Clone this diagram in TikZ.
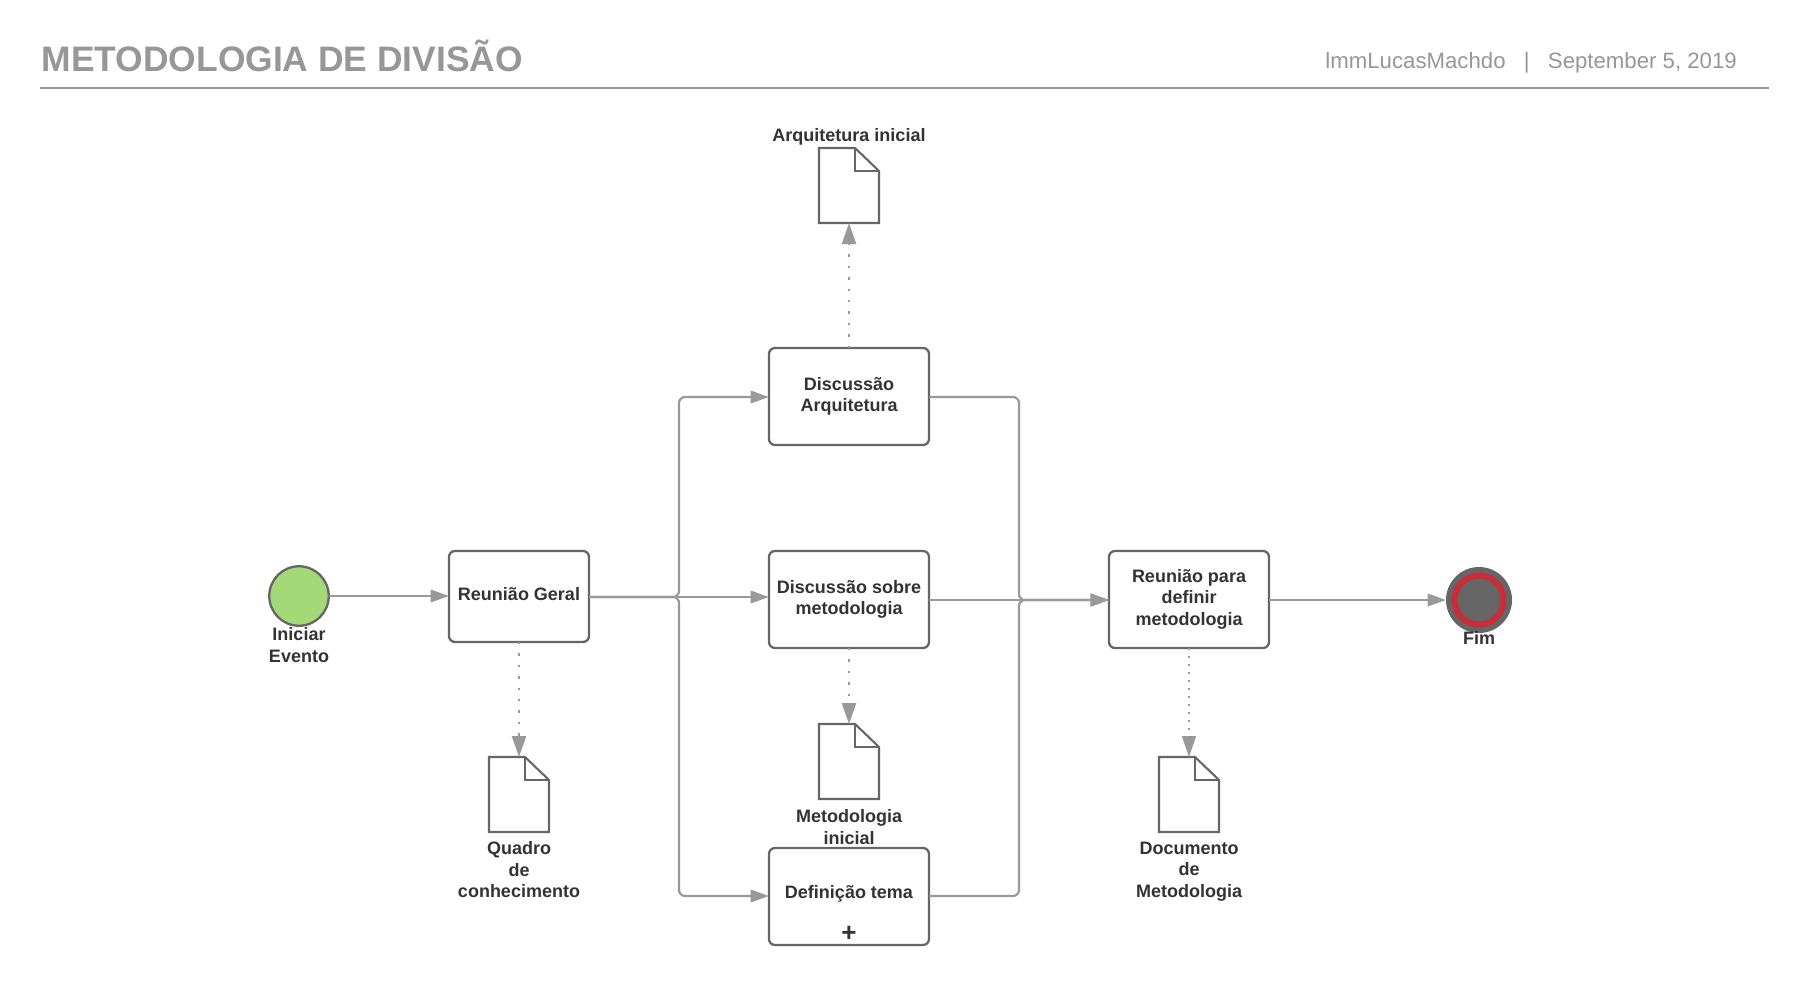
\documentclass[tikz,border=0pt]{standalone}
\usepackage{fontspec}
\setmainfont{Liberation Sans}
\usetikzlibrary{arrows.meta,calc}
\definecolor{ln}{HTML}{999999}
\definecolor{bx}{HTML}{666666}
\definecolor{tx}{HTML}{333333}
\definecolor{hd}{HTML}{979797}
\definecolor{grn}{HTML}{A3D977}
\definecolor{rd}{HTML}{C92D39}
\tikzset{
  x=1pt,y=-1pt,
  lbl/.style={font=\fontsize{18}{21.6}\selectfont\bfseries,text=tx,align=center,inner sep=0pt},
  taskbox/.style={draw=bx,line width=2.3pt,rounded corners=6pt,fill=white,inner sep=0pt,outer sep=0pt,font=\fontsize{18}{21.6}\selectfont\bfseries,text=tx,align=center,anchor=north west},
  docbox/.style={inner sep=0pt,outer sep=0pt,minimum width=60pt,minimum height=75pt,anchor=north west},
  flow/.style={draw=ln,line width=2.2pt,rounded corners=6pt,-{Stealth[inset=0pt,length=18.5pt,width=12.5pt]}},
  assoc/.style={draw=ln,line width=2.4pt,dash pattern=on 2.4pt off 9pt,-{Stealth[inset=0pt,length=21pt,width=14pt]}},
  assocthin/.style={draw=ln,line width=1.4pt,dash pattern=on 2pt off 6pt,-{Stealth[inset=0pt,length=21pt,width=14pt]}},
  docline/.style={draw=bx,line width=2.1pt,fill=white,line join=miter},
}
\newcommand{\docshape}[1]{%
  \draw[docline] (#1.north west) -- ++(36,0) -- ++(24,23) -- (#1.south east) -- (#1.south west) -- cycle;
  \draw[docline,fill=none] (#1.north west) ++(36,0) -- ++(0,23) -- ++(24,0);
}
\begin{document}
\begin{tikzpicture}
\useasboundingbox (0,0) rectangle (1809,1005);
\fill[white] (0,0) rectangle (1809,1005);
% header
\node[anchor=base west,inner sep=0pt,text=hd,font=\fontsize{35.4}{40}\selectfont\bfseries] (title) at (41.5,71) {METODOLOGIA DE DIVISÃO};
\node[anchor=base east,inner sep=0pt,text=hd,font=\fontsize{22.2}{28}\selectfont] (meta) at (1737,68) {lmmLucasMachdo\hspace{18.3pt}|\hspace{18.3pt}September 5, 2019};
\coordinate (ruleL) at (40,88);
\coordinate (ruleR) at (1769,88);
\draw[draw=hd,line width=2pt] (ruleL) -- (ruleR);
% events
\node[circle,draw=bx,line width=2.3pt,fill=grn,minimum size=59.5pt,inner sep=0pt,outer sep=0pt] (start) at (299,596) {};
\node[circle,fill=bx,minimum size=66pt,inner sep=0pt,outer sep=0pt] (end) at (1479,600) {};
\node[circle,draw=rd,line width=6pt,minimum size=49pt,inner sep=0pt,outer sep=0pt] (endring) at (1479,600) {};
% tasks
\node[taskbox,minimum width=140pt,minimum height=91pt] (rg) at (449,551) {\raisebox{6pt}{Reunião Geral}};
\node[taskbox,minimum width=160pt,minimum height=97pt] (da) at (769,348) {Discussão\\Arquitetura};
\node[taskbox,minimum width=160pt,minimum height=97pt] (dm) at (769,551) {Discussão sobre\\metodologia};
\node[taskbox,minimum width=160pt,minimum height=97pt] (dt) at (769,848) {};
\node[taskbox,minimum width=160pt,minimum height=97pt] (rm) at (1109,551) {\raisebox{0.6pt}{\begin{tabular}{@{}c@{}}Reunião para\\[-0.1pt]definir\\[-0.1pt]metodologia\end{tabular}}};
\node[lbl] (dtlab) at (849,894) {Definição tema};
\node[lbl,font=\fontsize{26}{26}\selectfont\bfseries] (plus) at (849,934) {+};
% documents
\node[docbox] (d1) at (819,148) {};
\node[docbox] (d2) at (819,724) {};
\node[docbox] (d3) at (489,757) {};
\node[docbox] (d4) at (1159,757) {};
\docshape{d1}\docshape{d2}\docshape{d3}\docshape{d4}
% labels
\node[lbl] (l1) at (849,137) {Arquitetura inicial};
\node[lbl,anchor=north] (l2) at (849,809.5) {Metodologia\\inicial};
\node[lbl,anchor=north] (l3) at (519,841.5) {Quadro\\de\\conhecimento};
\node[lbl,anchor=north] (l4) at (1189,841.5) {Documento\\de\\Metodologia};
\node[lbl,anchor=north] (l5) at (299,627.5) {Iniciar\\Evento};
\node[lbl] (l6) at (1479,638) {Fim};
% flow helpers
\coordinate (splitL) at (679,597);
\coordinate (joinR) at (1019,600);
\coordinate (ltop) at (679,397);
\coordinate (lbot) at (679,896);
\coordinate (rtop) at (1019,397);
\coordinate (rbot) at (1019,896);
% connectors
\draw[flow] (start.east) -- (rg.west |- start.east);
\draw[flow] (rg.east |- splitL) -- (dm.west |- splitL);
\draw[flow] (rg.east |- splitL) -- (splitL) -- (ltop) -- (da.west |- ltop);
\draw[flow] (rg.east |- splitL) -- (splitL) -- (lbot) -- (dt.west |- lbot);
\draw[flow] (da.east |- rtop) -- (rtop) -- (joinR) -- (rm.west |- joinR);
\draw[flow] (dt.east |- rbot) -- (rbot) -- (joinR) -- (rm.west |- joinR);
\draw[flow] (dm.east |- joinR) -- (rm.west |- joinR);
\draw[flow] (rm.east |- joinR) -- (end.west |- joinR);
\draw[assoc] (da.north) -- (d1.south);
\draw[assoc] (rg.south) -- (d3.north);
\draw[assoc] (dm.south) -- (d2.north);
\draw[assocthin] (rm.south) -- (d4.north);
\end{tikzpicture}
\end{document}
